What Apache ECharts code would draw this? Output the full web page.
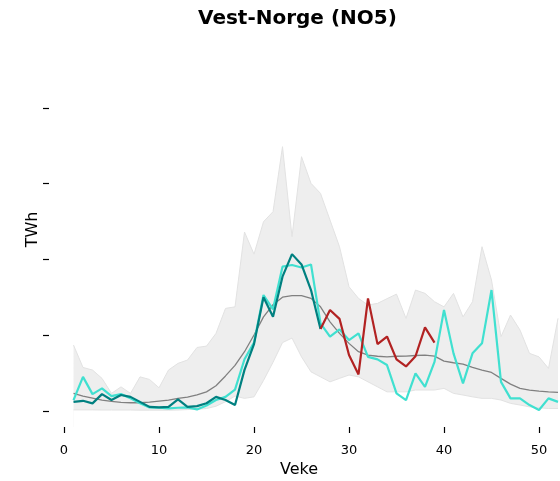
<!DOCTYPE html>
<html>
<head>
<meta charset="utf-8">
<title>Vest-Norge (NO5)</title>
<script src="https://cdn.jsdelivr.net/npm/echarts@6.0.0/dist/echarts.min.js"></script>
<style>
  html, body { margin: 0; padding: 0; background: #fff; }
  #chart { width: 560px; height: 481px; }
</style>
</head>
<body>
<div id="chart"></div>
<script>
// weekly values, TWh
var weeks = [1,2,3,4,5,6,7,8,9,10,11,12,13,14,15,16,17,18,19,20,21,22,23,24,25,26,
  27,28,29,30,31,32,33,34,35,36,37,38,39,40,41,42,43,44,45,46,47,48,49,50,51,52]

var bandLow = [0.006,0.006,0.006,0.005,0.005,0.005,0.005,0.004,0.004,0.004,0.004,0.005,0.008,
  0.01,0.015,0.03,0.06,0.097,0.082,0.092,0.2,0.32,0.45,0.48,0.356,0.257,0.224,0.191,0.214,
  0.236,0.224,0.191,0.158,0.125,0.125,0.125,0.137,0.137,0.137,0.148,0.115,0.104,0.092,0.082,
  0.082,0.071,0.049,0.038,0.026,0.02,0.015,0.015]

var bandHigh = [0.434,0.286,0.269,0.214,0.115,0.158,0.115,0.224,0.207,0.152,0.269,0.313,0.335,
  0.418,0.427,0.511,0.676,0.686,1.18,1.034,1.248,1.314,1.743,1.149,1.677,1.501,1.435,1.259,
  1.083,0.819,0.742,0.698,0.709,0.74,0.77,0.61,0.797,0.775,0.72,0.686,0.775,0.62,0.72,1.083,
  0.863,0.489,0.632,0.533,0.379,0.356,0.28,0.61]

var median = [0.115,0.097,0.084,0.071,0.062,0.055,0.053,0.053,0.057,0.064,0.071,0.082,0.09,
  0.105,0.125,0.165,0.23,0.3,0.39,0.5,0.62,0.7,0.75,0.76,0.76,0.742,0.686,0.587,0.511,0.445,
  0.39,0.367,0.36,0.356,0.36,0.361,0.365,0.368,0.361,0.328,0.317,0.308,0.286,0.269,0.253,
  0.214,0.176,0.148,0.137,0.13,0.125,0.121]

var turquoise = [0.07,0.224,0.11,0.148,0.097,0.11,0.082,0.049,0.022,0.02,0.016,0.02,0.022,
  0.009,0.035,0.071,0.092,0.14,0.34,0.45,0.764,0.67,0.951,0.962,0.946,0.966,0.577,0.489,
  0.537,0.467,0.511,0.356,0.339,0.302,0.115,0.071,0.247,0.158,0.323,0.665,0.379,0.181,
  0.379,0.445,0.797,0.191,0.082,0.082,0.038,0.005,0.082,0.059]

// weeks 1-27
var teal = [0.059,0.066,0.049,0.11,0.071,0.104,0.092,0.059,0.026,0.022,0.026,0.075,0.026,
  0.031,0.05,0.092,0.071,0.038,0.27,0.44,0.75,0.62,0.885,1.034,0.966,0.797,0.54]

// weeks 27-39
var red = [0.54,0.665,0.607,0.368,0.24,0.742,0.44,0.49,0.339,0.293,0.36,0.55,0.45]
var redStart = 27

var yTicks = [0, 0.5, 1, 1.5, 2]

function pairs(vals, start) {
  return vals.map(function (v, i) { return [weeks[start - 1 + i], v] })
}

// x axis starts at week 0, the canvas cuts it off a bit after week 52
var plotRect = { left: 64, right: -74, top: 32, bottom: 54, outerBoundsMode: 'none' }

var chart = echarts.init(document.getElementById('chart'))
chart.setOption({
  animation: false,
  textStyle: { fontFamily: 'DejaVu Sans' },
  title: {
    text: 'Vest-Norge (NO5)',
    left: 198,
    top: 9,
    padding: 0,
    textStyle: { fontSize: 20, fontWeight: 'bold', color: '#000', fontFamily: 'DejaVu Sans' }
  },
  // second grid sits on top of the first and only carries the x tick marks
  grid: [plotRect, plotRect],
  xAxis: [
    {
      type: 'value',
      gridIndex: 0,
      min: 0,
      max: 60,
      interval: 10,
      name: 'Veke',
      nameLocation: 'middle',
      nameGap: 35,
      nameTextStyle: { fontSize: 16, color: '#000', padding: [0, 100, 0, 0] },
      axisLine: { show: false, onZero: false },
      axisTick: { show: false },
      axisLabel: { fontSize: 13, color: '#000', margin: 17 },
      splitLine: { show: false }
    },
    {
      type: 'value',
      gridIndex: 1,
      min: 0,
      max: 60,
      interval: 10,
      zlevel: 1,
      axisLine: { show: false, onZero: false },
      axisTick: { show: true, length: 6, lineStyle: { color: '#000', width: 1.2 } },
      axisLabel: { show: false },
      splitLine: { show: false }
    }
  ],
  yAxis: [
    {
      type: 'value',
      gridIndex: 0,
      min: -0.107,
      max: 2.5,
      offset: 15,
      name: 'TWh',
      nameLocation: 'middle',
      nameRotate: 90,
      nameGap: 8,
      nameTextStyle: { fontSize: 16, color: '#000' },
      axisLine: { show: false, onZero: false },
      axisTick: { show: true, length: 6, customValues: yTicks, lineStyle: { color: '#000', width: 1.2 } },
      axisLabel: { show: false },
      splitLine: { show: false }
    },
    {
      type: 'value',
      gridIndex: 1,
      min: -0.107,
      max: 2.5,
      show: false
    }
  ],
  series: [
    {
      // upper edge of the min-max band, filled down
      type: 'line',
      data: pairs(bandHigh, 1),
      symbol: 'none',
      lineStyle: { color: '#e2e2e2', width: 1 },
      areaStyle: { color: '#eeeeee', opacity: 1, origin: 'start' },
      z: 1
    },
    {
      // lower edge, white fill cuts the band out below it
      type: 'line',
      data: pairs(bandLow, 1),
      symbol: 'none',
      lineStyle: { color: '#e2e2e2', width: 1 },
      areaStyle: { color: '#ffffff', opacity: 1, origin: 'start' },
      z: 1
    },
    {
      type: 'line',
      data: pairs(median, 1),
      symbol: 'none',
      lineStyle: { color: '#808080', width: 1.3 },
      z: 2
    },
    {
      type: 'line',
      data: pairs(turquoise, 1),
      symbol: 'none',
      lineStyle: { color: '#40e0d0', width: 2.2 },
      z: 3
    },
    {
      type: 'line',
      data: pairs(teal, 1),
      symbol: 'none',
      lineStyle: { color: '#008080', width: 2.2 },
      z: 4
    },
    {
      type: 'line',
      data: pairs(red, redStart),
      symbol: 'none',
      lineStyle: { color: '#b22222', width: 2.2 },
      z: 5
    }
  ]
})
</script>
</body>
</html>
